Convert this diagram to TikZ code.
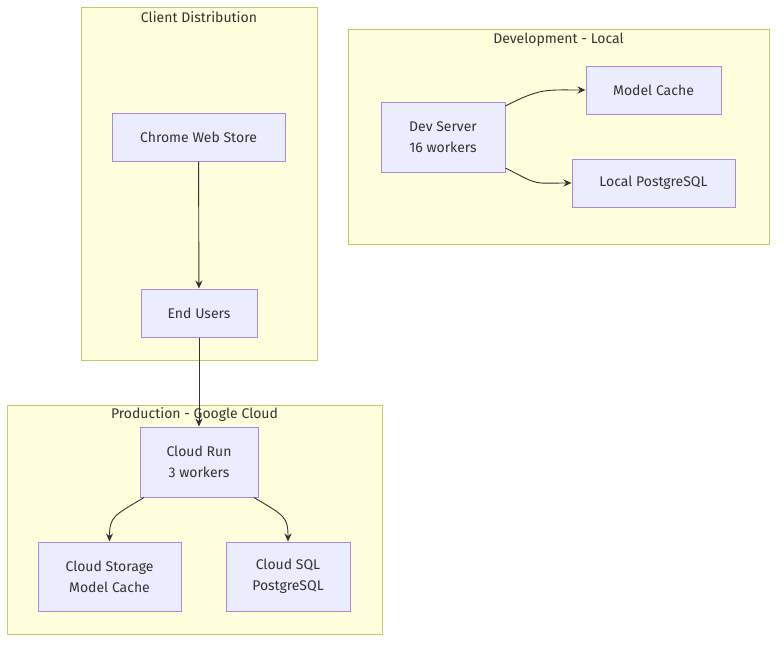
\documentclass[tikz,border=0pt]{standalone}
\usepackage{fontspec}
\setmainfont{Fira Sans}
\usetikzlibrary{arrows.meta}
\definecolor{clusterfill}{HTML}{FFFFDE}
\definecolor{clusterline}{HTML}{C8C86A}
\definecolor{boxfill}{HTML}{ECECFF}
\definecolor{boxline}{HTML}{A88BE0}
\definecolor{ink}{HTML}{333333}

\tikzset{
  cluster/.style={draw=clusterline, fill=clusterfill, line width=1pt},
  title/.style={text=ink, font=\fontsize{14}{17}\selectfont},
  box/.style={draw=boxline, fill=boxfill, line width=1pt, text=ink,
              font=\fontsize{14}{21}\selectfont, align=center, inner sep=0pt},
  link/.style={draw=ink, line width=0.9pt, -{Stealth[length=8pt, width=7pt]}}
}

\begin{document}
\begin{tikzpicture}[x=1pt, y=-1pt]
  \useasboundingbox (0, 0) rectangle (784, 648);

  % clusters
  \draw [cluster] (81, 7) rectangle (317, 360);
  \node [title] (clienttitle) at (199, 17) {Client Distribution};

  \draw [cluster] (348, 29) rectangle (769, 244);
  \node [title] (devtitle) at (558.5, 40) {Development - Local};

  \draw [cluster] (7, 405) rectangle (382, 634);
  \node [title] (prodtitle) at (194.5, 415) {Production - Google Cloud};

  % client side
  \node [box, minimum width=173pt, minimum height=48pt] (store) at (198.5, 137) {Chrome Web Store};
  \node [box, minimum width=116pt, minimum height=48pt] (users) at (199, 313) {End Users};

  % development
  \node [box, minimum width=124pt, minimum height=70pt] (devserver) at (443, 137) {Dev Server\\16 workers};
  \node [box, minimum width=135pt, minimum height=48pt] (devcache) at (653.5, 90) {Model Cache};
  \node [box, minimum width=163pt, minimum height=48pt] (devdb) at (653.5, 183) {Local PostgreSQL};

  % production
  \node [box, minimum width=118pt, minimum height=70pt] (cloudrun) at (199, 462) {Cloud Run\\3 workers};
  \node [box, minimum width=143pt, minimum height=69pt] (storage) at (109.5, 576.5) {Cloud Storage\\Model Cache};
  \node [box, minimum width=124pt, minimum height=69pt] (cloudsql) at (288, 576.5) {Cloud SQL\\PostgreSQL};

  % links
  \draw [link] (store) -- (users);
  \draw [link] (users) -- (cloudrun);

  \draw [link] ([yshift=31pt]devserver.east) .. controls +(35, -18) and +(-40, 0) .. (devcache.west);
  \draw [link] ([yshift=-31pt]devserver.east) .. controls +(35, 18) and +(-40, 0) .. (devdb.west);

  \draw [link] ([xshift=-55pt]cloudrun.south) .. controls +(-30, 18) and +(0, -25) .. (storage.north);
  \draw [link] ([xshift=55pt]cloudrun.south) .. controls +(30, 18) and +(0, -25) .. (cloudsql.north);
\end{tikzpicture}
\end{document}
